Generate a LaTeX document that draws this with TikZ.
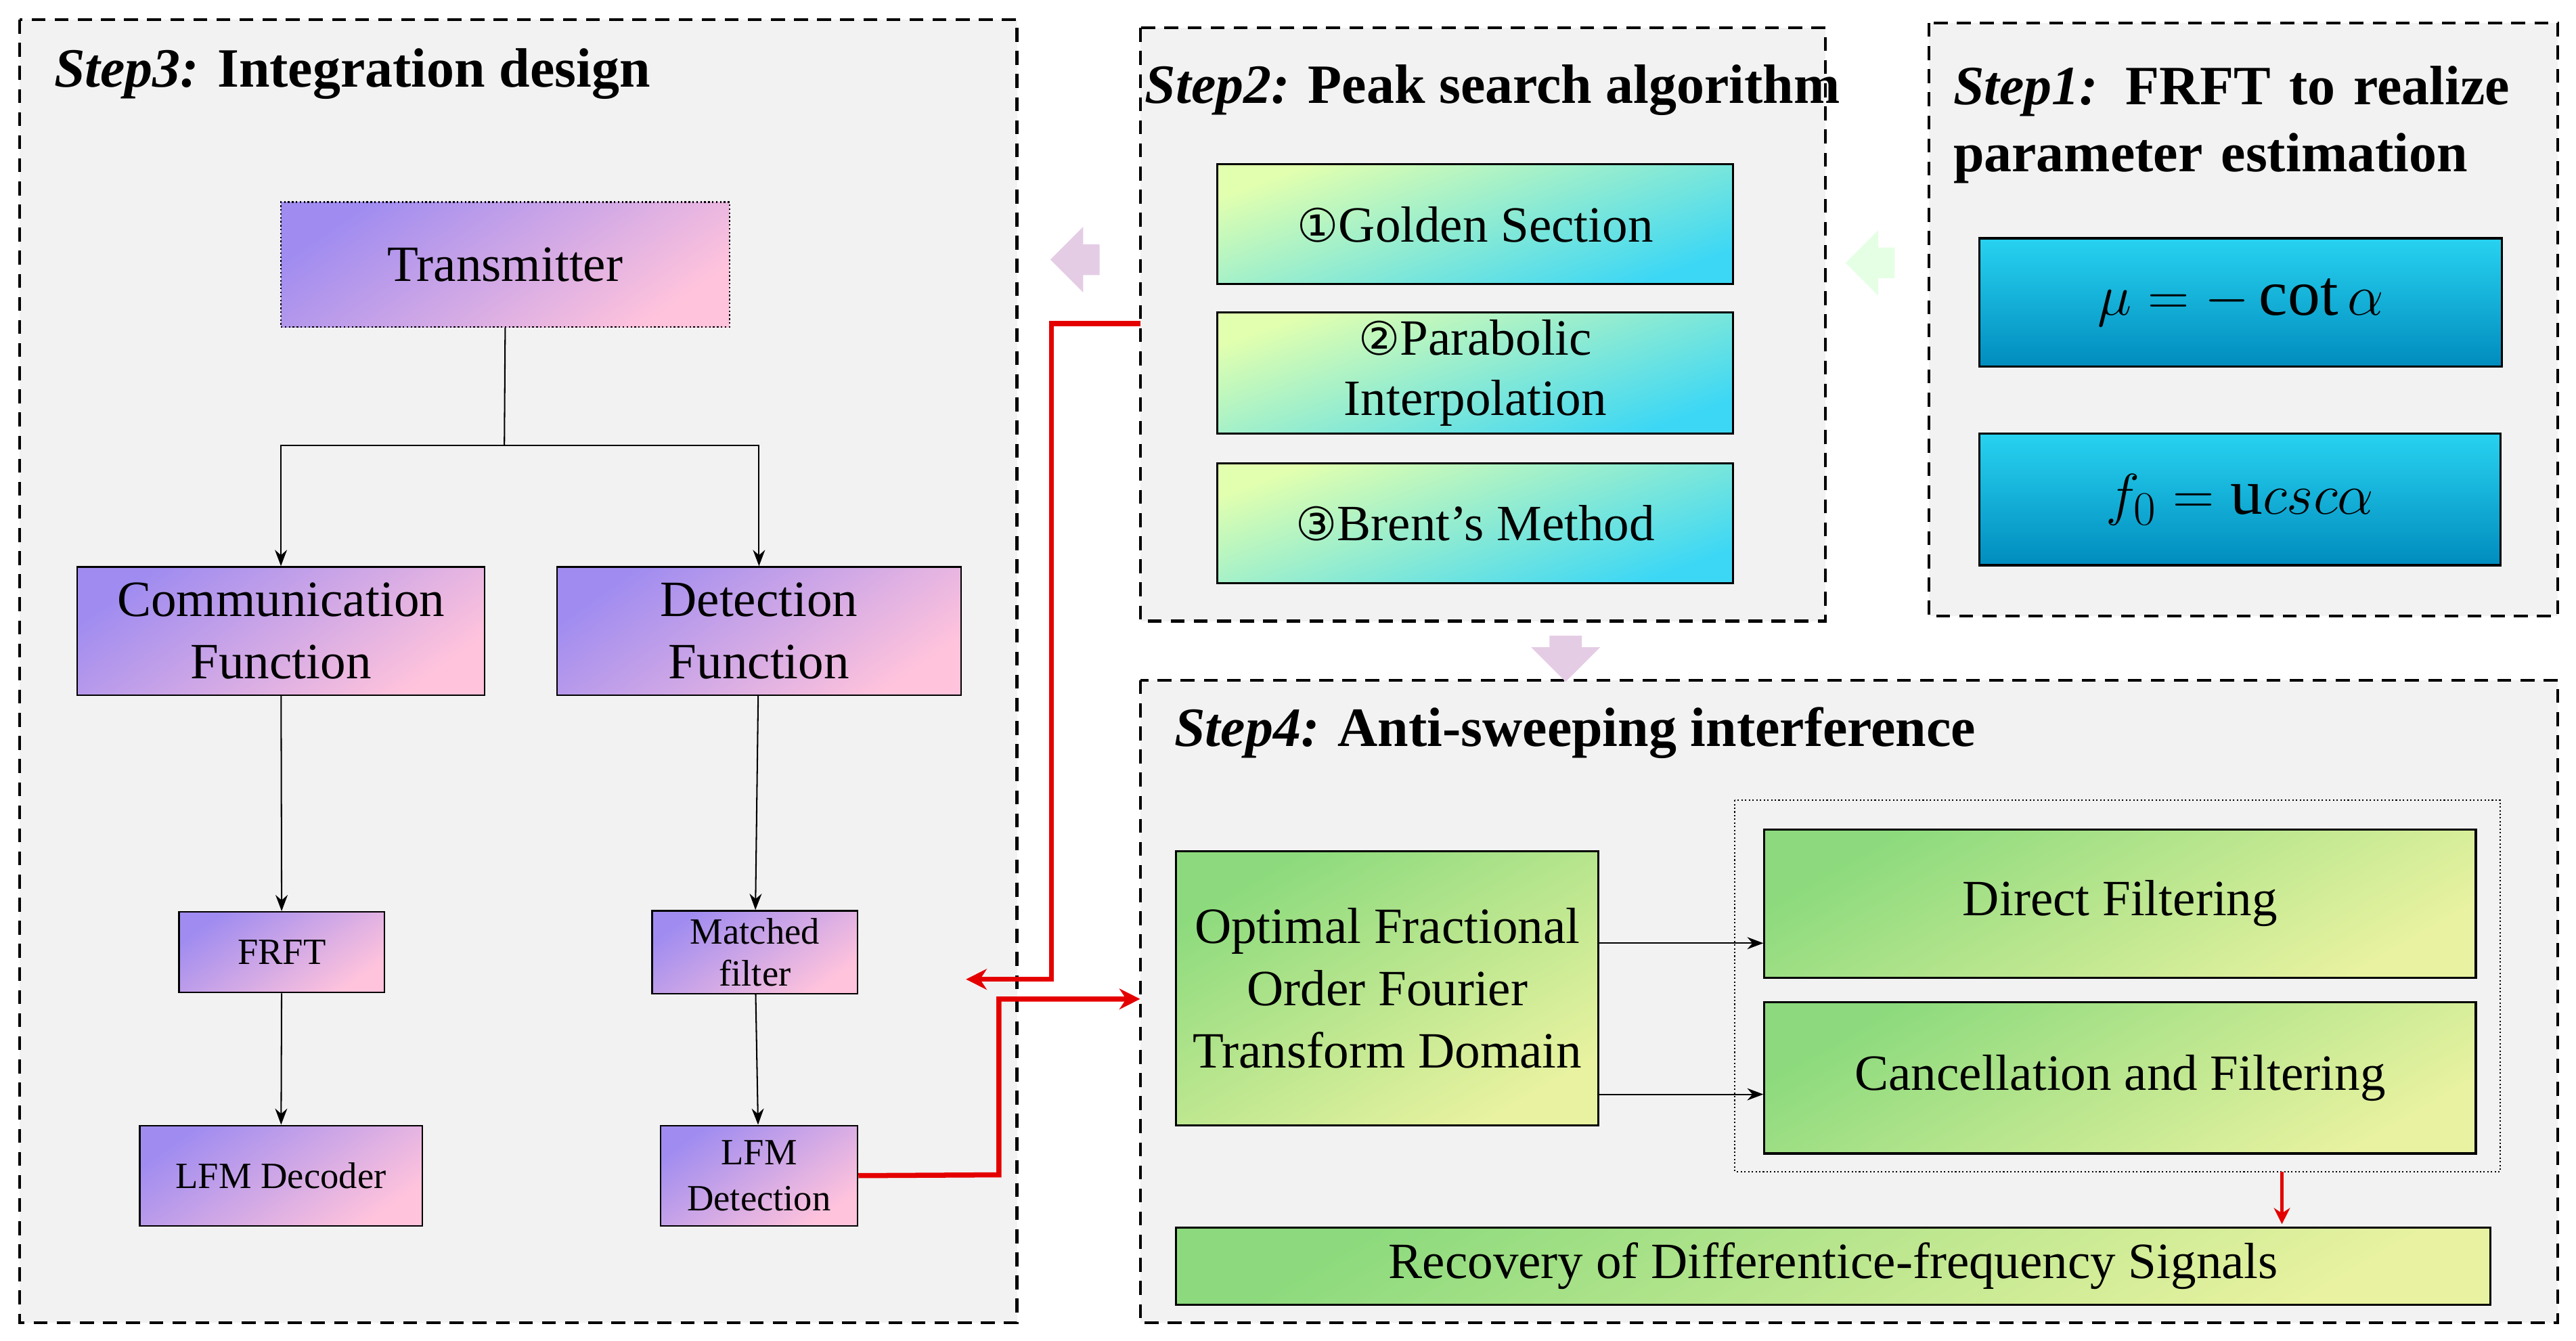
\documentclass[tikz,border=0pt]{standalone}
\usepackage{fontspec}
\setmainfont{Liberation Serif}
\newfontfamily\djv{DejaVu Sans}
\usetikzlibrary{arrows.meta,shapes.arrows}
\definecolor{pA}{RGB}{160,140,240}
\definecolor{pB}{RGB}{255,195,220}
\definecolor{cA}{RGB}{225,255,175}
\definecolor{cB}{RGB}{60,215,245}
\definecolor{gA}{RGB}{140,218,125}
\definecolor{gB}{RGB}{232,242,160}
\definecolor{bA}{RGB}{40,210,240}
\definecolor{bB}{RGB}{0,140,190}
\begin{document}
\begin{tikzpicture}[x=0.025cm,y=-0.025cm,
 panel/.style={draw,line width=1.2pt,fill=black!5,dash pattern=on 6pt off 4pt},
 pbox/.style={draw,line width=0.7pt,top color=pA,bottom color=pB,shading angle=35,align=center,font=\fontsize{22}{27}\selectfont},
 cbox/.style={draw,line width=0.9pt,top color=cA,bottom color=cB,shading angle=20,align=center,font=\fontsize{22}{26}\selectfont},
 bbox/.style={draw,line width=0.9pt,top color=bA,bottom color=bB,align=center,font=\fontsize{28}{32}\selectfont},
 gbox/.style={draw,line width=0.9pt,top color=gA,bottom color=gB,shading angle=30,align=center,font=\fontsize{22}{27}\selectfont},
 ttl/.style={anchor=west,font=\fontsize{24}{29}\selectfont\bfseries,align=left},
 arr/.style={-{Stealth[length=7pt]},line width=0.6pt},
 red/.style={draw=red!90!black,line width=2.2pt,-{Stealth[length=9pt,width=9pt]}}]
\useasboundingbox (0,0) rectangle (1568,816);
\fill[white] (0,0) rectangle (1568,816);
% panels
\draw[panel] (12,12) rectangle (619,805);
\draw[panel] (694,17) rectangle (1111,378);
\draw[panel] (1174,14) rectangle (1557,375);
\draw[panel] (694,414) rectangle (1557,805);
\node[ttl] (t3) at (28,45) {\textit{Step3:} Integration design};
\node[ttl] (t2) at (692,55) {\textit{Step2:} Peak search algorithm};
\node[ttl,text width=9cm] (t1) at (1184,76) {\textit{Step1:} FRFT to realize\\parameter estimation};
\node[ttl] (t4) at (710,446) {\textit{Step4:} Anti-sweeping interference};
% step3 boxes
\node[pbox,densely dotted,minimum width=273*0.025cm,minimum height=76*0.025cm] (tx) at (307.5,161) {Transmitter};
\node[pbox,minimum width=248*0.025cm,minimum height=78*0.025cm] (cf) at (171,384) {Communication\\Function};
\node[pbox,minimum width=246*0.025cm,minimum height=78*0.025cm] (df) at (462,384) {Detection\\Function};
\node[pbox,minimum width=125*0.025cm,minimum height=49*0.025cm,font=\fontsize{16}{18}\selectfont] (fr) at (171.5,579.5) {FRFT};
\node[pbox,minimum width=125*0.025cm,minimum height=49*0.025cm,font=\fontsize{16}{18}\selectfont] (mf) at (459.5,579.5) {Matched\\filter};
\node[pbox,minimum width=172*0.025cm,minimum height=61*0.025cm,font=\fontsize{16}{18}\selectfont] (ld) at (171,715.5) {LFM Decoder};
\node[pbox,minimum width=120*0.025cm,minimum height=61*0.025cm,font=\fontsize{16}{20}\selectfont] (lt) at (462,715.5) {LFM\\Detection};
\coordinate (j) at (307,271);
\draw[line width=0.6pt] (tx.south) -- (j);
\draw[arr] (j) -| (cf.north);
\draw[arr] (j) -| (df.north);
\draw[arr] (cf) -- (fr);
\draw[arr] (fr) -- (ld);
\draw[arr] (df) -- (mf);
\draw[arr] (mf) -- (lt);
% step2 boxes
\node[cbox,minimum width=314*0.025cm,minimum height=73*0.025cm] (g1) at (898,136.5) {{\djv\fontsize{20}{22}\selectfont ①}Golden Section};
\node[cbox,minimum width=314*0.025cm,minimum height=72*0.025cm] (g2) at (898,227) {{\djv\fontsize{20}{22}\selectfont ②}Parabolic\\Interpolation};
\node[cbox,minimum width=314*0.025cm,minimum height=73*0.025cm] (g3) at (898,318.5) {{\djv\fontsize{20}{22}\selectfont ③}Brent's Method};
% step1 boxes
\node[bbox,minimum width=318*0.025cm,minimum height=78*0.025cm] (m1) at (1364,184) {$\mu = -\cot\alpha$};
\node[bbox,minimum width=317*0.025cm,minimum height=80*0.025cm] (m2) at (1363.5,304) {$f_0 = \mathrm{u}csc\alpha$};
% step4
\draw[densely dotted,line width=0.6pt] (1056,487) rectangle (1522,713);
\node[gbox,minimum width=257*0.025cm,minimum height=167*0.025cm] (op) at (844.5,601.5) {Optimal Fractional\\Order Fourier\\Transform Domain};
\node[gbox,minimum width=433*0.025cm,minimum height=90*0.025cm] (dfl) at (1290.5,550) {Direct Filtering};
\node[gbox,minimum width=433*0.025cm,minimum height=92*0.025cm] (cfl) at (1290.5,656) {Cancellation and Filtering};
\node[gbox,minimum width=800*0.025cm,minimum height=47*0.025cm] (rc) at (1116,770.5) {Recovery of Differentice-frequency Signals};
\draw[arr] (op.east |- 0,574) -- (dfl.west |- 0,574);
\draw[arr] (op.east |- 0,666) -- (cfl.west |- 0,666);
\coordinate (gb) at (1389,713);
\draw[red,line width=1.6pt,-{Stealth[length=7pt,width=7pt]}] (gb) -- (1389,745);
% red connectors
\coordinate (r1) at (588,596);
\draw[red] (694,197) -- (640,197) -- (640,596) -- (r1);
\draw[red] (lt.east) -- (608,715) -- (608,608) -- (694,608);
% block arrows
\node[single arrow,fill=violet!20,draw=none,shape border rotate=180,minimum height=30*0.025cm,minimum width=40*0.025cm,single arrow head extend=4pt] (ba1) at (659,158) {};
\node[single arrow,fill=green!10,draw=none,shape border rotate=180,minimum height=30*0.025cm,minimum width=40*0.025cm,single arrow head extend=4pt] (ba2) at (1143,160) {};
\node[single arrow,fill=violet!20,draw=none,shape border rotate=270,minimum height=28*0.025cm,minimum width=42*0.025cm,single arrow head extend=4pt] (ba3) at (953,396) {};
\end{tikzpicture}
\end{document}
